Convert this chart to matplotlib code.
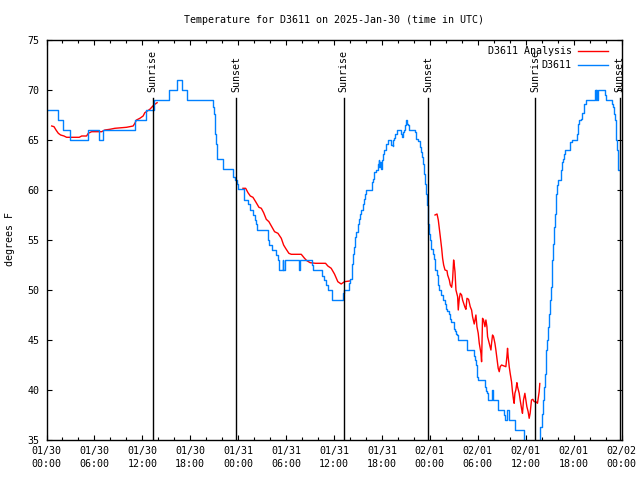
import numpy as np
import matplotlib
matplotlib.use("Agg")
import matplotlib.pyplot as plt

plt.rcParams['font.family'] = ['DejaVu Sans Mono']
FS = 7.2

# ---- data (hours since 2025-01-30 00:00 UTC) ----
obs_t = [0.0, 1.4, 2.1, 2.95, 5.15, 6.55, 7.1, 11.1, 12.45, 13.5, 15.35, 16.4, 16.95, 17.65,
         20.8, 20.95, 21.1, 21.2, 21.35, 22.05, 23.3, 23.6, 23.8, 24.0, 24.7, 25.25, 25.5,
         25.9, 26.05, 26.2, 26.4, 27.75, 27.9, 28.2, 28.75, 28.95, 29.15, 29.6, 29.65, 29.9,
         31.65, 31.73, 33.25, 33.4, 34.55, 34.75, 35.05, 35.2, 35.7, 37.15, 37.3, 37.9, 38.05,
         38.2, 38.3, 38.4, 38.55, 38.65, 38.75, 38.95, 39.1, 39.25, 39.4, 39.65, 39.8, 39.9,
         40.0, 40.75, 40.85, 41.05, 41.2, 41.45, 41.6, 41.68, 41.75, 41.88, 42.0, 42.15, 42.3,
         42.55, 42.8, 43.1, 43.35, 43.45, 43.55, 43.65, 43.85, 44.35, 44.5, 44.65, 44.8, 44.9,
         45.0, 45.1, 45.22, 45.35, 46.15, 46.3, 46.55, 46.75, 46.9, 47.0, 47.15, 47.3, 47.42,
         47.55, 47.68, 47.73, 47.8, 47.95, 48.05, 48.2, 48.35, 48.48, 48.62, 48.95, 49.05,
         49.15, 49.45, 49.6, 49.85, 50.0, 50.2, 50.4, 50.55, 50.7, 51.0, 51.05, 51.15, 51.25,
         51.45, 51.55, 52.6, 53.5, 53.62, 53.75, 53.88, 53.95, 54.05, 54.85, 55.0, 55.2, 55.3,
         55.75, 55.82, 55.92, 56.55, 57.25, 57.38, 57.62, 57.88, 58.62, 59.85, 60.2, 60.8,
         61.4, 61.7, 61.85, 62.0, 62.15, 62.3, 62.42, 62.5, 62.58, 62.7, 62.82, 62.92, 63.0,
         63.12, 63.25, 63.33, 63.42, 63.55, 63.67, 63.75, 63.83, 63.95, 64.08, 64.38, 64.5,
         64.58, 64.68, 64.8, 64.92, 65.6, 65.8, 66.45, 66.58, 66.68, 66.88, 67.08, 67.3, 67.55,
         68.65, 68.78, 68.85, 68.95, 69.03, 69.92, 70.05, 70.75, 70.9, 71.05, 71.18, 71.32,
         71.45, 71.55, 71.62, 71.7]
obs_v = [68, 67, 66, 65, 66, 65, 66, 67, 68, 69, 70, 71, 70, 69,
         68.3, 67.6, 65.6, 64.6, 63.1, 62.1, 61.3, 61.0, 60.6, 60.1, 59.0, 58.6, 58.0,
         57.5, 57.0, 56.6, 56.0, 55.0, 54.5, 54.0, 53.5, 53.0, 52.0, 53.0, 52.0, 53.0,
         52.0, 53.0, 52.5, 52.0, 51.4, 51.0, 50.5, 50.0, 49.0, 49.7, 50.0, 50.7, 51.1,
         51.6, 52.6, 53.6, 54.3, 55.3, 55.8, 56.6, 57.1, 57.6, 58.0, 58.6, 59.1, 59.6,
         60.0, 60.8, 61.1, 61.8, 62.0, 62.6, 63.0, 62.3, 62.8, 62.1, 63.0, 63.6, 64.0,
         64.6, 65.0, 64.45, 64.35, 65.0, 65.2, 65.55, 66.0, 65.55, 65.3, 65.8, 66.0, 66.5,
         67.0, 66.6, 66.45, 66.0, 65.8, 65.1, 64.9, 64.3, 63.8, 63.3, 62.6, 61.6, 60.6,
         59.6, 58.5, 57.6, 56.6, 55.6, 55.0, 54.1, 53.6, 53.1, 52.0, 51.5, 50.5,
         50.0, 49.5, 49.0, 48.6, 48.1, 47.9, 47.6, 47.1, 46.8, 46.6, 46.1, 45.9, 45.6,
         45.45, 45.0, 44.0, 43.4, 43.0, 42.45, 41.7, 41.3, 41.0, 40.3, 39.9, 39.7, 39.0,
         39.3, 40.0, 39.0, 38.0, 37.5, 37.0, 38.0, 37.0, 36.0, 34.6, 33.5, 33.0,
         33.8, 34.9, 36.3, 37.6, 39.0, 40.3, 41.6, 43.0, 44.0, 45.0, 46.3, 47.6, 49.0,
         50.3, 51.6, 53.0, 54.6, 56.3, 57.6, 58.6, 59.6, 60.45, 61.0, 62.0, 62.45,
         62.8, 63.1, 63.6, 64.0, 64.8, 65.0, 65.6, 66.6, 67.0, 67.1, 67.7, 68.6, 69.0,
         70.0, 69.0, 70.0, 69.0, 70.0, 69.5, 69.0, 68.6, 68.3, 67.6, 67.0, 65.0,
         64.0, 63.0, 62.0, 62.0]

ana1_t = [0.65, 0.94, 1.19, 1.48, 1.77, 2.19, 2.52, 4.1, 4.4, 5.02, 5.23, 5.65, 6.9, 7.31,
          7.94, 8.56, 10.02, 10.85, 11.06, 11.27, 11.69, 12.1, 12.31, 12.94, 13.44, 13.85]
ana1_v = [66.35, 66.28, 65.95, 65.62, 65.45, 65.35, 65.22, 65.22, 65.35, 65.35, 65.62, 65.78,
          65.78, 65.95, 66.02, 66.12, 66.22, 66.35, 66.62, 66.95, 67.12, 67.35, 67.68, 68.02,
          68.45, 68.68]
ana2_t = [24.6, 24.94, 25.23, 25.52, 25.85, 26.19, 26.6, 26.9, 27.19, 27.52, 27.85, 28.15,
          28.56, 28.98, 29.4, 29.69, 29.94, 30.35, 30.65, 31.9, 32.31, 32.6, 33.02, 33.69,
          34.94, 35.23, 35.65, 36.06, 36.48, 36.9, 37.31, 37.94]
ana2_v = [60.12, 60.12, 59.68, 59.35, 59.22, 58.78, 58.22, 58.12, 57.68, 57.02, 56.78, 56.35,
          55.78, 55.62, 55.12, 54.45, 54.12, 53.62, 53.52, 53.52, 53.12, 52.88, 52.68, 52.62,
          52.62, 52.35, 52.12, 51.55, 50.78, 50.55, 50.78, 50.85]
ana3_t = [48.65, 48.9, 49.06, 49.19, 49.31, 49.48, 49.6, 49.73, 49.9, 50.15, 50.23, 50.44,
          50.56, 50.73, 50.85, 50.98, 51.06, 51.15, 51.27, 51.48, 51.56, 51.69, 51.81, 51.98,
          52.1, 52.23, 52.4, 52.52, 52.65, 52.85, 53.06, 53.23, 53.35, 53.56, 53.65, 53.77,
          53.9, 54.06, 54.19, 54.4, 54.48, 54.6, 54.73, 54.9, 55.02, 55.15, 55.23, 55.44,
          55.65, 55.73, 55.85, 55.98, 56.15, 56.27, 56.4, 56.56, 56.69, 56.81, 56.98, 57.31,
          57.52, 57.65, 57.73, 57.81, 57.94, 58.06, 58.23, 58.35, 58.48, 58.56, 58.65, 58.77,
          58.9, 58.98, 59.19, 59.31, 59.48, 59.6, 59.73, 59.9, 60.02, 60.15, 60.31, 60.44,
          60.56, 60.73, 60.9, 61.06, 61.27, 61.48, 61.69, 61.77]
ana3_v = [57.45, 57.55, 56.95, 56.12, 55.28, 54.12, 53.12, 52.45, 51.95, 51.88, 51.45, 50.95,
          50.45, 50.22, 50.95, 52.95, 52.45, 51.78, 49.95, 49.28, 47.95, 49.12, 49.62, 49.45,
          48.95, 48.62, 48.22, 48.02, 49.12, 49.02, 48.28, 47.95, 47.28, 46.55, 46.95, 47.45,
          46.28, 45.62, 44.62, 43.62, 42.78, 47.12, 46.95, 46.28, 46.95, 46.28, 45.28, 44.62,
          43.95, 44.62, 45.45, 45.28, 44.62, 43.95, 43.12, 42.12, 41.78, 42.28, 42.45, 42.35,
          42.28, 43.28, 44.12, 43.28, 42.28, 41.62, 40.78, 39.78, 38.95, 38.62, 39.62, 39.95,
          40.68, 40.28, 39.62, 38.95, 38.12, 37.62, 38.95, 39.62, 38.95, 38.28, 37.78, 37.12,
          37.62, 38.95, 39.02, 38.78, 38.78, 38.62, 39.78, 40.6]

sun_t = [13.29, 23.75, 37.2, 47.8, 61.2, 71.75]
sun_lbl = ['Sunrise', 'Sunset', 'Sunrise', 'Sunset', 'Sunrise', 'Sunset']

xtick_h = [0, 6, 12, 18, 24, 30, 36, 42, 48, 54, 60, 66, 72]
xtick_lbl = ['01/30\n00:00', '01/30\n06:00', '01/30\n12:00', '01/30\n18:00',
             '01/31\n00:00', '01/31\n06:00', '01/31\n12:00', '01/31\n18:00',
             '02/01\n00:00', '02/01\n06:00', '02/01\n12:00', '02/01\n18:00',
             '02/02\n00:00']
yticks = [35, 40, 45, 50, 55, 60, 65, 70, 75]

# ---- figure ----
fig = plt.figure(figsize=(6.4, 4.8), dpi=100)
ax = fig.add_axes([46.5/640, 1 - 439.5/480, 575/640, 400/480])

ana_t = ana1_t + [np.nan] + ana2_t + [np.nan] + ana3_t
ana_v = ana1_v + [np.nan] + ana2_v + [np.nan] + ana3_v
ax.plot(ana_t, ana_v, color='#ff0000', lw=1, label='D3611 Analysis')
ax.plot(obs_t, obs_v, color='#0080ff', lw=1, drawstyle='steps-post', label='D3611')

for t, lbl in zip(sun_t, sun_lbl):
    ax.plot([t, t], [35, 69.15], color='black', lw=1)
    ax.text(t, 69.75, lbl, rotation=90, ha='center', va='bottom', fontsize=FS)

ax.set_xlim(0, 72)
ax.set_ylim(35, 75)
ax.set_xticks(xtick_h)
ax.set_xticklabels(xtick_lbl, fontsize=FS, linespacing=1.35)
ax.set_xticks(np.arange(0, 73, 2), minor=True)
ax.set_yticks(yticks)
ax.set_yticklabels([str(v) for v in yticks], fontsize=FS)
ax.tick_params(which='major', direction='in', length=3.5, width=0.8, top=True, right=True, pad=5)
ax.tick_params(which='minor', direction='in', length=2.2, width=0.8, top=True, right=True)
ax.tick_params(axis='y', which='minor', left=False, right=False)
for s in ax.spines.values():
    s.set_linewidth(1)

ax.set_title('Temperature for D3611 on 2025-Jan-30 (time in UTC)', fontsize=FS, pad=12)
ax.set_ylabel('degrees F', fontsize=FS, labelpad=9)

ax.legend(loc='upper right', bbox_to_anchor=(1 - 7/575, 1), frameon=False, markerfirst=False,
          fontsize=FS, handlelength=3.0, handletextpad=0.6, borderaxespad=0.3,
          labelspacing=0.35, alignment='right')

fig.savefig('out.png', dpi=100)
